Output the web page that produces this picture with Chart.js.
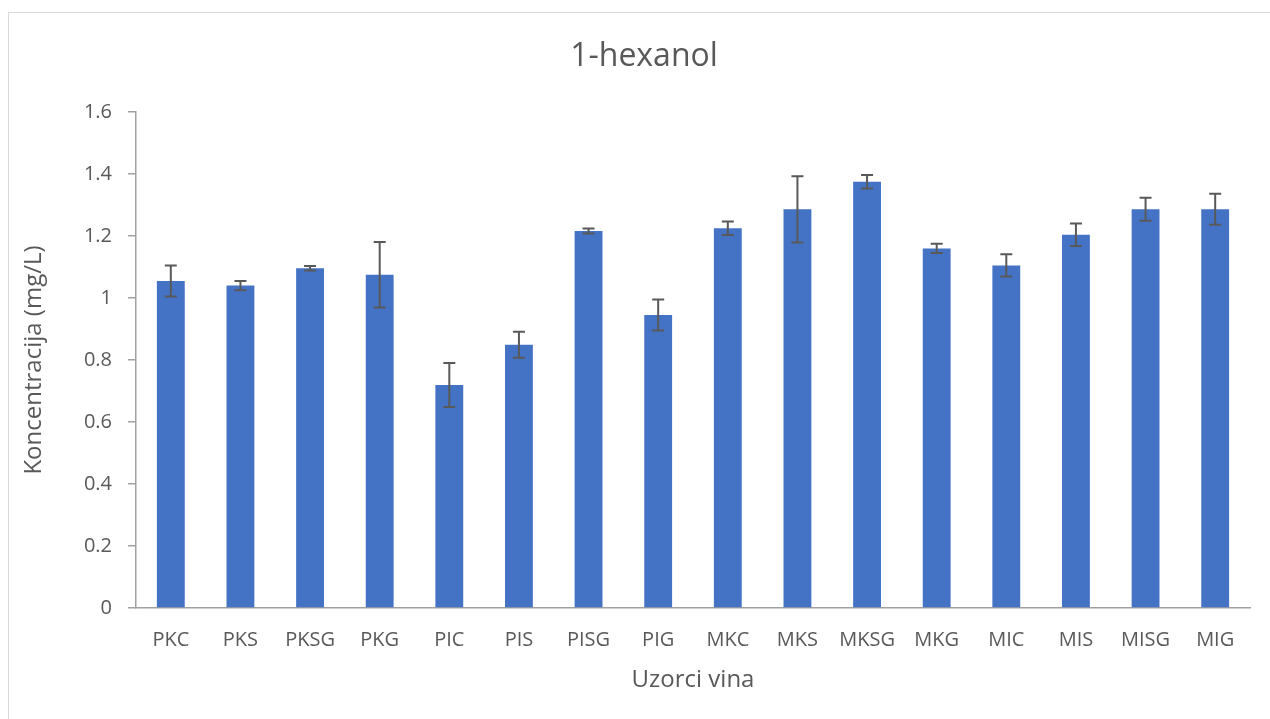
<!DOCTYPE html>
<html>
<head>
<meta charset="utf-8">
<title>1-hexanol</title>
<script src="https://cdn.jsdelivr.net/npm/chart.js@4/dist/chart.umd.min.js"></script>
<style>
	body { margin: 0; background: #fff; overflow: hidden; }
	.moldura { position: absolute; left: 8px; top: 12px; width: 1300px; height: 750px; border: 1px solid #d9d9d9; }
	.grafico { position: absolute; left: 0; top: 0; width: 1270px; height: 719px; }
</style>
</head>
<body>
<div class="moldura"></div>
<div class="grafico"><canvas id="chartHexanol" width="1270" height="719"></canvas></div>
<script>
var uzorci = ['PKC', 'PKS', 'PKSG', 'PKG', 'PIC', 'PIS', 'PISG', 'PIG', 'MKC', 'MKS', 'MKSG', 'MKG', 'MIC', 'MIS', 'MISG', 'MIG'];
var koncentracija = [1.055, 1.04, 1.096, 1.075, 0.719, 0.849, 1.216, 0.945, 1.225, 1.286, 1.375, 1.16, 1.105, 1.204, 1.286, 1.286];
var greska = [0.05, 0.015, 0.007, 0.106, 0.071, 0.042, 0.008, 0.05, 0.022, 0.107, 0.022, 0.015, 0.036, 0.036, 0.037, 0.05];
var yMin = 0;
var yMax = 1.6;
var yKorak = 0.2;

var fonte = '"Open Sans", "Noto Sans", sans-serif';
var sivo = '#595959';

// error bars drawn on top of the bars
var errorBars = {
	id: 'errorBars',
	afterDatasetsDraw: function(chart) {
		var ctx = chart.ctx;
		var y = chart.scales.y;
		var barras = chart.getDatasetMeta(0).data;
		ctx.save();
		ctx.strokeStyle = sivo;
		ctx.lineWidth = 2;
		barras.forEach(function(barra, i) {
			var v = koncentracija[i];
			var e = greska[i];
			var topo = y.getPixelForValue(v + e);
			var baixo = y.getPixelForValue(v - e);
			var x = barra.x;
			ctx.beginPath();
			ctx.moveTo(x, topo);
			ctx.lineTo(x, baixo);
			ctx.moveTo(x - 6, topo);
			ctx.lineTo(x + 6, topo);
			ctx.moveTo(x - 6, baixo);
			ctx.lineTo(x + 6, baixo);
			ctx.stroke();
		});
		ctx.restore();
	}
};

var grafico = new Chart(document.getElementById('chartHexanol'), {
	type: 'bar',
	data: {
		labels: uzorci,
		datasets: [
			{
				label: '1-hexanol',
				backgroundColor: '#4472c4',
				borderWidth: 0,
				categoryPercentage: 1,
				barPercentage: 0.4,
				data: koncentracija
			}
		]
	},
	options: {
		responsive: false,
		animation: false,
		layout: { padding: { left: 38, right: 20, top: 38, bottom: 0 } },
		plugins: {
			legend: { display: false },
			tooltip: { enabled: false },
			title: {
				display: true,
				text: '1-hexanol',
				color: sivo,
				font: { family: fonte, size: 32, weight: 'normal' },
				padding: { top: 0, bottom: 35.6 }
			}
		},
		scales: {
			x: {
				afterFit: function(scale) { scale.height = 111; },
				grid: { display: false, drawTicks: false },
				border: { display: true, color: '#a0a0a0', width: 1.5 },
				ticks: { color: sivo, padding: 20, font: { family: fonte, size: 20 } },
				title: {
					display: true,
					text: 'Uzorci vina',
					color: sivo,
					font: { family: fonte, size: 24 },
					padding: { top: 0, bottom: 24.6 }
				}
			},
			y: {
				min: yMin,
				max: yMax,
				afterFit: function(scale) { scale.width = 98; },
				grid: { display: true, drawOnChartArea: false, drawTicks: true, tickLength: 8, color: '#a0a0a0', lineWidth: 1.5 },
				border: { display: true, color: '#a0a0a0', width: 1.5 },
				ticks: {
					stepSize: yKorak,
					color: sivo,
					padding: 16,
					font: { family: fonte, size: 20 },
					callback: function(v) { return String(+v.toFixed(1)); }
				},
				title: {
					display: true,
					text: 'Koncentracija (mg/L)',
					color: sivo,
					font: { family: fonte, size: 24 },
					padding: { top: -18, bottom: 0 }
				}
			}
		}
	},
	plugins: [errorBars]
});
</script>
</body>
</html>
